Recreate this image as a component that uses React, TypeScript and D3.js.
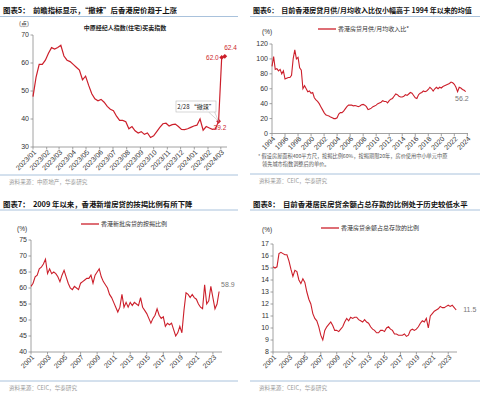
import * as d3 from "d3";

const RED = "#cc1f2b";
const RULE = "#a9c2dc";
const NUM = "'Liberation Sans', 'Noto Sans CJK SC', sans-serif";
const CJK = "'Noto Sans CJK SC', 'Liberation Sans', sans-serif";

// 图表5: 中原经纪人指数(住宅)买卖指数, weekly from 2023-01-01
const cclStart = new Date(2023, 0, 1);
const cclValues = [
  48, 55, 59.5, 59.5, 61,
  63.5, 65.5, 65, 65.5,
  66.3, 62.5, 61, 60.5,
  59.5, 58.5, 57.5, 54, 55.3,
  52, 49, 47.2, 46.5,
  47, 46, 44.5, 43.5,
  43, 41, 39.5, 39.5, 39,
  36.5, 37.3, 35.8, 35,
  35.5, 34.5, 35, 33.4,
  34, 35.5, 37, 38.3, 38.5,
  37.5, 38, 38.2, 37.3,
  36.3, 36.2, 36.5, 37, 37.5,
  37.8, 40, 36, 37.3,
  36.8, 36.3, 36.5, 39.2,
  62.0, 62.4,
];
const cclTickLabels = [
  "2023/01", "2023/02", "2023/03", "2023/04", "2023/05", "2023/06", "2023/07", "2023/08",
  "2023/09", "2023/10", "2023/11", "2023/12", "2024/01", "2024/02", "2024/03",
];
const cclYTicks = [30, 40, 50, 60, 70];

// 图表6: 香港房贷月供/月均收入比, quarterly from 1994
const affordStart = 1994;
const affordValues = [
  90, 103, 86, 87, 84, 86, 80, 84, 73, 74, 75, 75, 78, 100, 112, 100,
  102, 88, 85, 60, 64, 60, 56, 57, 54, 55, 48, 45, 43, 40, 36, 32,
  28, 25, 24, 23.5, 22, 21, 20, 20, 21, 26, 28, 28, 30, 33, 36, 38,
  38, 38, 37, 37.5, 37, 36, 37, 38.5, 39, 38, 36, 32, 33, 34, 36, 37,
  38, 40, 41, 42, 44, 43, 43, 41, 44, 46, 47, 50, 53, 52, 50, 49,
  49, 50, 52, 51, 53, 55, 54, 51, 48, 47, 52, 54, 55, 57, 56, 57,
  59, 62, 60, 57, 60, 62, 60, 62, 61, 63, 64, 65, 66, 67, 69, 68,
  66, 62, 56, 62, 61, 59, 58, 56.2,
];
const affordXTicks = [1994, 1996, 1998, 2000, 2002, 2004, 2006, 2008, 2010, 2012, 2014, 2016, 2018, 2020, 2022, 2024];
const affordYTicks = [0, 20, 40, 60, 80, 100, 120];

// 图表7: 香港新批房贷的按揭比例, quarterly from 2001
const ltvStart = 2001;
const ltvValues = [
  60.5, 61.5, 63.5, 64, 66, 66.5, 67.5, 69, 64.5, 66, 64.5, 65, 64.5, 63.5, 62, 64,
  65.5, 63.5, 61.5, 60, 59.5, 60.5, 60, 59.5, 61.5, 62, 62.5, 63, 63, 64, 61.5, 64,
  65, 66, 63.5, 62, 61, 60, 58, 57, 55.5, 54, 52.5, 54, 58, 54, 55.5, 54,
  55.5, 54.5, 55.5, 55, 54.5, 57, 54, 53, 52, 50.5, 49, 50.5, 51.5, 53.5, 51.5, 50.5,
  51, 48, 49, 48.5, 49, 47, 45, 46, 48, 46, 53, 58.5, 58, 57, 58, 57,
  56.5, 55, 54, 53.5, 61, 55, 56, 60.5, 57, 53.5, 55, 58.9,
];
const ltvXTicks = [2001, 2003, 2005, 2007, 2009, 2011, 2013, 2015, 2017, 2019, 2021, 2023];
const ltvYTicks = [40, 45, 50, 55, 60, 65, 70, 75];

// 图表8: 香港房贷余额占总存款的比例, quarterly from 2001
const depStart = 2001;
const depValues = [
  15.1, 15.0, 15.1, 16.2, 16.3, 16.2, 16.1, 16.1, 15.6, 14.9, 14.3, 14.8, 14.7, 14.0, 13.7, 14.1,
  13.8, 13.0, 12.4, 12.0, 11.2, 10.8, 10.6, 10.1, 9.4, 9.0, 9.8, 10.1, 10.3, 10.5, 10.2, 9.8,
  9.8, 9.7, 9.9, 10.1, 10.5, 10.8, 10.6, 10.9, 10.8, 10.9, 10.9, 10.7, 10.6, 10.5, 10.7, 10.5,
  10.4, 10.1, 9.9, 9.8, 9.6, 9.6, 9.8, 9.8, 9.7, 10.0, 10.1, 9.9, 9.8, 9.5, 9.5, 9.4,
  9.4, 9.4, 9.5, 9.3, 9.4, 9.8, 9.9, 9.8, 9.9, 10.1, 10.4, 10.6, 10.5, 10.8, 10.0, 11.0,
  11.2, 11.4, 11.5, 11.6, 11.8, 11.7, 11.7, 11.8, 11.9, 11.8, 11.9, 11.7, 11.5,
];
const depXTicks = ltvXTicks;
const depYTicks = [8, 9, 10, 11, 12, 13, 14, 15, 16, 17];

type Pt = [number, number];

function Axes({ xs, ys, yTicks, xTicks, xLabels }: {
  xs: (v: number) => number; ys: d3.ScaleLinear<number, number>;
  yTicks: number[]; xTicks: number[]; xLabels: string[];
}) {
  const x0 = (xs as any).range()[0];
  const x1 = (xs as any).range()[1];
  const [yb, yt] = ys.range();
  return (
    <g fontFamily={NUM} fontSize={7} fill="#333">
      <line x1={x0} x2={x0} y1={yt} y2={yb} stroke="#8c8c8c" strokeWidth={0.8} />
      {yTicks.map((t) => (
        <g key={t}>
          <line x1={x0 - 2.5} x2={x0} y1={ys(t)} y2={ys(t)} stroke="#8c8c8c" strokeWidth={0.8} />
          <text x={x0 - 4} y={ys(t)} dy="0.35em" textAnchor="end">{t}</text>
        </g>
      ))}
      <line x1={x0} x2={x1} y1={yb} y2={yb} stroke="#8c8c8c" strokeWidth={0.8} />
      {xTicks.map((t, i) => (
        <g key={t}>
          <line x1={xs(t)} x2={xs(t)} y1={yb} y2={yb + 2.5} stroke="#8c8c8c" strokeWidth={0.8} />
          <text transform={`translate(${xs(t) + 2},${yb + 4}) rotate(-45)`} dy="0.35em" textAnchor="end">
            {xLabels[i]}
          </text>
        </g>
      ))}
    </g>
  );
}

function Frame({ x0, w, title, titleY, ruleY, srcRuleY, source, size = 7.4 }: {
  x0: number; w: number; title: string; titleY: number; ruleY: number; srcRuleY: number; source: string; size?: number;
}) {
  return (
    <g fontFamily={CJK}>
      <text x={x0 + 3} y={titleY} fontSize={size} fontWeight="bold" fill="#111" style={{ whiteSpace: "pre" }}>{title}</text>
      <line x1={x0} x2={x0 + w} y1={ruleY} y2={ruleY} stroke={RULE} strokeWidth={1} />
      <line x1={x0} x2={x0 + w} y1={srcRuleY} y2={srcRuleY} stroke={RULE} strokeWidth={1} />
      <text x={x0 + 9} y={srcRuleY + 9} fontSize={5.6} fill="#9a9a9a">{source}</text>
    </g>
  );
}

function Legend({ x, y, label }: { x: number; y: number; label: string }) {
  return (
    <g>
      <line x1={x} x2={x + 18} y1={y} y2={y} stroke={RED} strokeWidth={1.3} />
      <text x={x + 20} y={y} dy="0.35em" fontFamily={CJK} fontSize={6} fill="#333">{label}</text>
    </g>
  );
}

function Diamond({ x, y }: { x: number; y: number }) {
  const s = 2.4;
  return <path d={`M${x},${y - s}L${x + s},${y}L${x},${y + s}L${x - s},${y}Z`} fill={RED} />;
}

export default function App() {
  const line = d3.line<Pt>().x((d) => d[0]).y((d) => d[1]);

  // 图表5
  const parse = d3.timeParse("%Y/%m");
  const cclDates = cclValues.map((_, i) => d3.timeDay.offset(cclStart, i * 7));
  const xs5 = d3.scaleTime().domain([cclStart, new Date(2024, 2, 15)]).range([33, 227]);
  const ys5 = d3.scaleLinear().domain([30, 70]).range([147, 35]);
  const pts5: Pt[] = cclValues.map((v, i) => [xs5(cclDates[i]), ys5(v)]);
  const tick5 = cclTickLabels.map((l) => +parse(l)!);
  const n = cclValues.length;
  const pre = pts5[n - 3];

  // 图表6
  const xs6 = d3.scaleLinear().domain([1994, 2024.1]).range([272, 468]);
  const ys6 = d3.scaleLinear().domain([0, 120]).range([133.5, 44]);
  const pts6: Pt[] = affordValues.map((v, i) => [xs6(affordStart + i / 4), ys6(v)]);

  // 图表7
  const xs7 = d3.scaleLinear().domain([2001, 2024.1]).range([31, 222]);
  const ys7 = d3.scaleLinear().domain([40, 75]).range([352, 240]);
  const pts7: Pt[] = ltvValues.map((v, i) => [xs7(ltvStart + i / 4), ys7(v)]);

  // 图表8
  const xs8 = d3.scaleLinear().domain([2001, 2024.1]).range([273, 457]);
  const ys8 = d3.scaleLinear().domain([8, 17]).range([352, 244]);
  const pts8: Pt[] = depValues.map((v, i) => [xs8(depStart + i / 4), ys8(v)]);

  const last6 = pts6[pts6.length - 1];
  const last7 = pts7[pts7.length - 1];
  const last8 = pts8[pts8.length - 1];

  return (
    <div style={{ position: "absolute", left: 0, top: 0 }}>
      <svg width={500} height={396} style={{ display: "block", background: "#fff" }}>
        {/* 图表5 */}
        <Frame x0={0} w={238} titleY={13} ruleY={16.5} srcRuleY={175} title={"图表5：  前瞻指标显示，“撤辣”后香港房价趋于上涨"} source="资料来源：中原地产，华泰研究" />
        <text x={125} y={30} textAnchor="middle" fontFamily={CJK} fontSize={6} fontWeight="bold" fill="#222">中原经纪人指数(住宅)买卖指数</text>
        <text x={24} y={26} textAnchor="middle" fontFamily={CJK} fontSize={6} fill="#333">(点)</text>
        <Axes xs={xs5 as any} ys={ys5} yTicks={cclYTicks} xTicks={tick5} xLabels={cclTickLabels} />
        <path d={line(pts5)!} fill="none" stroke={RED} strokeWidth={1.2} />
        {pts5.slice(n - 3).map((p, i) => <Diamond key={i} x={p[0]} y={p[1]} />)}
        <path d={`M${pre[0] - 10},${112}L${pre[0]},${pre[1]}L${pre[0] - 4},${112}`} fill="none" stroke="#bbb" strokeWidth={0.6} />
        <rect x={176} y={101} width={40} height={11} fill="#fff" stroke="#bbb" strokeWidth={0.6} />
        <text x={196} y={106.5} dy="0.35em" textAnchor="middle" fontFamily={CJK} fontSize={6} fill="#222">2/28 “撤辣”</text>
        <text x={pts5[n - 1][0] + 5} y={pts5[n - 1][1] - 6} textAnchor="end" fontFamily={NUM} fontSize={6.5} fill={RED} dx={7}>{cclValues[n - 1].toFixed(1)}</text>
        <text x={pts5[n - 2][0] - 3} y={pts5[n - 2][1] + 2.5} textAnchor="end" fontFamily={NUM} fontSize={6.5} fill={RED}>{cclValues[n - 2].toFixed(1)}</text>
        <text x={pre[0] - 5} y={pre[1] + 9} fontFamily={NUM} fontSize={6.5} fill={RED}>{cclValues[n - 3].toFixed(1)}</text>

        {/* 图表6 */}
        <Frame x0={250} w={230} titleY={13} ruleY={16.5} srcRuleY={174} size={7} title={"图表6：  目前香港房贷月供/月均收入比仅小幅高于 1994 年以来的均值"} source="资料来源：CEIC，华泰研究" />
        <Legend x={318} y={29} label="香港房贷月供/月均收入比*" />
        <text x={262} y={34} fontFamily={NUM} fontSize={6.5} fill="#333">(%)</text>
        <Axes xs={xs6} ys={ys6} yTicks={affordYTicks} xTicks={affordXTicks} xLabels={affordXTicks.map(String)} />
        <path d={line(pts6)!} fill="none" stroke={RED} strokeWidth={1.1} />
        <text x={last6[0] + 3} y={last6[1] + 9} textAnchor="end" fontFamily={NUM} fontSize={7} fill="#777">56.2</text>
        <text x={258} y={158} fontFamily={CJK} fontSize={5.2} fill="#555">* 假设房屋面积400平方尺，按揭比例60%，按揭期限20年，房价使用中小单元中原</text>
        <text x={262} y={166} fontFamily={CJK} fontSize={5.2} fill="#555">领先城市指数调整后的单价。</text>

        {/* 图表7 */}
        <Frame x0={0} w={238} titleY={207} ruleY={210} srcRuleY={381} title={"图表7：  2009 年以来，香港新增房贷的按揭比例有所下降"} source="资料来源：CEIC，华泰研究" />
        <Legend x={81} y={224} label="香港新批房贷的按揭比例" />
        <text x={17} y={231} fontFamily={NUM} fontSize={6.5} fill="#333">(%)</text>
        <Axes xs={xs7} ys={ys7} yTicks={ltvYTicks} xTicks={ltvXTicks} xLabels={ltvXTicks.map(String)} />
        <path d={line(pts7)!} fill="none" stroke={RED} strokeWidth={1.1} />
        <text x={last7[0] + 2} y={last7[1] - 5} fontFamily={NUM} fontSize={7} fill="#777">58.9</text>

        {/* 图表8 */}
        <Frame x0={250} w={230} titleY={207} ruleY={210} srcRuleY={381} title={"图表8：  目前香港居民房贷余额占总存款的比例处于历史较低水平"} source="资料来源：CEIC，华泰研究" />
        <Legend x={321} y={228} label="香港房贷余额占总存款的比例" />
        <text x={262} y={232} fontFamily={NUM} fontSize={6.5} fill="#333">(%)</text>
        <Axes xs={xs8} ys={ys8} yTicks={depYTicks} xTicks={depXTicks} xLabels={depXTicks.map(String)} />
        <path d={line(pts8)!} fill="none" stroke={RED} strokeWidth={1.1} />
        <text x={last8[0] + 7} y={last8[1]} dy="0.35em" fontFamily={NUM} fontSize={7} fill="#777">11.5</text>
      </svg>
    </div>
  );
}
